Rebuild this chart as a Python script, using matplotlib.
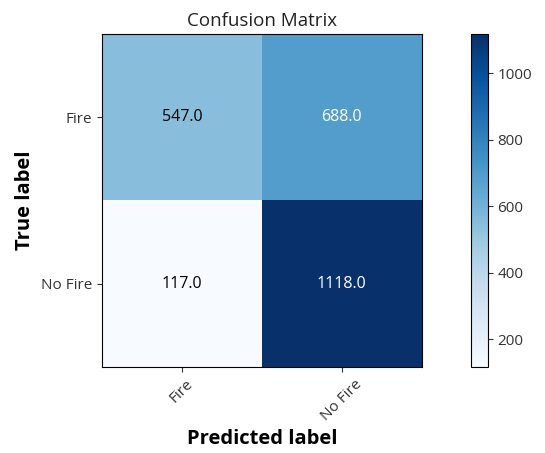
import numpy as np
import matplotlib
matplotlib.use("Agg")
import matplotlib.pyplot as plt

classes = ["Fire", "No Fire"]
cm = np.array([[547.0, 688.0],
               [117.0, 1118.0]])
cbar_ticks = [200, 400, 600, 800, 1000]

plt.rcParams['font.family'] = ['Open Sans', 'DejaVu Sans']
plt.rcParams['text.color'] = '#222222'

fig = plt.figure(figsize=(5.45, 4.53), dpi=100)
ax = fig.add_axes([0.187, 0.19, 0.587, 0.735])
cax = fig.add_axes([0.864, 0.19, 0.031, 0.735])

im = ax.imshow(cm, interpolation='nearest', cmap=plt.cm.Blues, aspect='auto')
ax.set_title("Confusion Matrix", fontsize=13.5)
cb = fig.colorbar(im, cax=cax)
cb.set_ticks(cbar_ticks)
cb.ax.tick_params(labelsize=11, colors='#333333')

ax.set_xticks(np.arange(len(classes)))
ax.set_yticks(np.arange(len(classes)))
ax.set_xticklabels(classes, rotation=45, fontsize=11)
ax.set_yticklabels(classes, fontsize=11)
ax.tick_params(colors='#333333')

thresh = cm.max() / 2.
for i in range(cm.shape[0]):
    for j in range(cm.shape[1]):
        ax.text(j, i, format(cm[i, j], '.1f'), ha='center', va='center',
                fontsize=11.5, color='white' if cm[i, j] > thresh else 'black')

ax.set_ylabel("True label", fontsize=14.5, fontweight='bold')
ax.set_xlabel("Predicted label", fontsize=14.5, fontweight='bold')

fig.savefig("out.png", dpi=100)
